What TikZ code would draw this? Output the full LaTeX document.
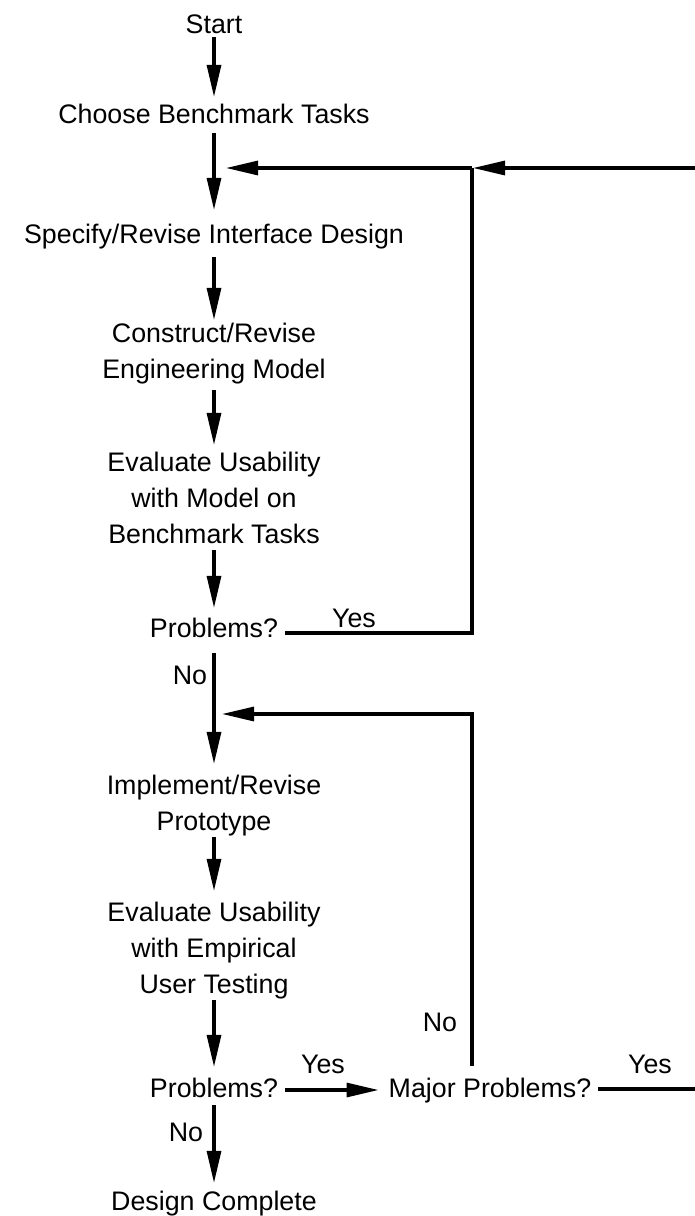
\documentclass[tikz,border=0pt]{standalone}
\usepackage{fontspec}
\setmainfont{Liberation Sans}
\usetikzlibrary{arrows.meta}
\begin{document}
\begin{tikzpicture}[x=1pt,y=-1pt,
  txt/.style={font=\fontsize{26.8}{36}\selectfont, inner sep=0pt, anchor=base, align=center, text=black},
  conn/.style={line width=3.1pt, draw=black},
  arr/.style={conn, -{Triangle[length=32pt,width=14pt]}}]
\useasboundingbox[fill=white] (0,0) rectangle (695,1216);
% main column (multi-line nodes: base = last line)
\node[txt] (start) at (214,33) {Start};
\node[txt] (choose) at (214,123) {Choose Benchmark Tasks};
\node[txt] (specify) at (214,243) {Specify/Revise Interface Design};
\node[txt] (construct) at (214,378) {Construct/Revise\\Engineering Model};
\node[txt] (eval1) at (214,543) {Evaluate Usability\\with Model on\\Benchmark Tasks};
\node[txt] (prob1) at (214,637) {Problems?};
\node[txt] (impl) at (214,830) {Implement/Revise\\Prototype};
\node[txt] (eval2) at (214,993) {Evaluate Usability\\with Empirical\\User Testing};
\node[txt] (prob2) at (214,1097) {Problems?};
\node[txt] (major) at (490,1097) {Major Problems?};
\node[txt] (design) at (214,1210) {Design Complete};
% labels
\node[txt] (yes1) at (354,627) {Yes};
\node[txt] (no1) at (190,684) {No};
\node[txt] (no2) at (440,1031) {No};
\node[txt] (yes2) at (323,1073) {Yes};
\node[txt] (yes3) at (650,1073) {Yes};
\node[txt] (no3) at (186,1141) {No};
% junctions and free ends
\coordinate (j1) at (472,168);
\coordinate (t1) at (226,168);
\coordinate (e1) at (695,168);
\coordinate (j2) at (472,714);
\coordinate (t2) at (222,714);
\coordinate (e2) at (695,1089);
% main arrows
\draw[arr, shorten <=4pt, shorten >=6.5pt] (start.south) -- (choose.north);
\draw[arr, shorten <=10pt, shorten >=13.5pt] (choose.south) -- (specify.north);
\draw[arr, shorten <=8.4pt, shorten >=2.5pt] (specify.south) -- (construct.north);
\draw[arr, shorten <=6.4pt, shorten >=6.5pt] (construct.south) -- (eval1.north);
\draw[arr, shorten <=7pt, shorten >=9.5pt] (eval1.south) -- (prob1.north);
\draw[arr, shorten <=16pt, shorten >=10.5pt] (prob1.south) -- (impl.north);
\draw[arr, shorten <=1pt, shorten >=10.5pt] (impl.south) -- (eval2.north);
\draw[arr, shorten <=1pt, shorten >=10.5pt] (eval2.south) -- (prob2.north);
\draw[arr, shorten <=8pt, shorten >=7.5pt] (prob2.south) -- (design.north);
\draw[arr, shorten <=7pt, shorten >=10pt] ([yshift=7pt]prob2.base east) -- ([yshift=7pt]major.base west);
% loop 1
\draw[conn, line join=miter, shorten <=7pt] ([yshift=4pt]prob1.base east) -- ([yshift=4pt]prob1.base east -| j1) -- (j1);
\draw[arr] (e1) -- ([xshift=1pt]j1);
\draw[arr] (j1) -- (t1);
% loop 2
\draw[conn, line join=miter, shorten <=11.5pt] (major.north -| j2) -- (j2) -- (t2) [arr];
\draw[conn, shorten <=7pt] ([yshift=8pt]major.base east) -- (e2);
\end{tikzpicture}
\end{document}
